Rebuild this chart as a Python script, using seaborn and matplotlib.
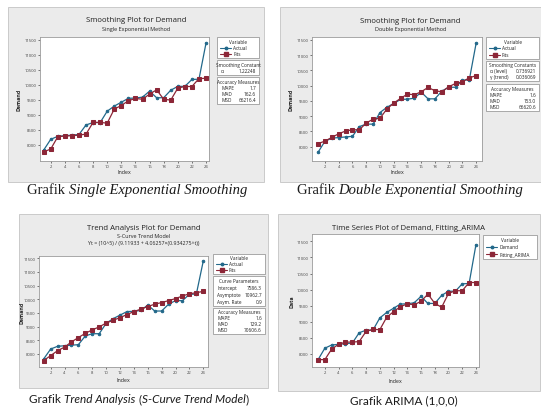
import matplotlib
matplotlib.use("Agg")
import numpy as np
import seaborn as sns
import matplotlib.pyplot as plt
from matplotlib.patches import Rectangle
from matplotlib.lines import Line2D

# ---- data -------------------------------------------------------------
index = list(range(1, 25))
demand = [7820, 8180, 8280, 8300, 8320, 8340, 8660, 8740, 8740, 9120, 9290, 9420,
          9550, 9560, 9590, 9790, 9570, 9570, 9820, 9950, 9950, 10180, 10190, 11400]
fits_single = [7760, 7855, 8265, 8290, 8300, 8320, 8355, 8745, 8745, 8720, 9190, 9310,
               9470, 9545, 9520, 9690, 9835, 9520, 9490, 9890, 9945, 9945, 10210, 10220]
fits_double = [8100, 8185, 8305, 8425, 8515, 8555, 8555, 8775, 8905, 8930, 9235, 9430,
               9585, 9725, 9705, 9800, 9945, 9835, 9800, 9965, 10075, 10130, 10260, 10330]
fits_trend = [7760, 7940, 8120, 8250, 8440, 8600, 8755, 8880, 8990, 9130, 9230, 9330,
              9440, 9550, 9640, 9735, 9820, 9880, 9950, 10025, 10120, 10200, 10240, 10290]
fits_arima = [7825, 7825, 8155, 8300, 8370, 8370, 8385, 8700, 8765, 8755, 9140, 9315,
              9470, 9555, 9530, 9635, 9860, 9575, 9450, 9880, 9965, 9965, 10220, 10220]

x_ticks = list(range(2, 25, 2))
y_ticks = [8000, 8500, 9000, 9500, 10000, 10500, 11000, 11500]

single_constants = [("α", "1.22248")]
double_constants = [("α (level)", "0.736921"), ("γ (trend)", "0.036069")]
trend_params = [("Intercept", "7586.3"), ("Asymptote", "10962.7"), ("Asym. Rate", "0.9")]
acc_single = [("MAPE", "1.7"), ("MAD", "162.6"), ("MSD", "66216.4")]
acc_double = [("MAPE", "1.6"), ("MAD", "153.0"), ("MSD", "66620.6")]
acc_trend = [("MAPE", "1.6"), ("MAD", "129.2"), ("MSD", "70606.6")]

# ---- style ------------------------------------------------------------
W, H = 541, 410
BLUE = "#22688a"
RED = "#8c2637"
PANEL = "#ebebeb"
EDGE = "#c4c4c4"
TXT = "#222222"

sns.set_theme(style="white")
plt.rcParams["font.family"] = ["Open Sans", "DejaVu Sans"]

fig = plt.figure(figsize=(W / 100, H / 100), dpi=100)
fig.patch.set_facecolor("white")


def fx(x):
    return x / W


def fy(y):
    return 1 - y / H


def frect(x0, y0, x1, y1):
    return [x0 / W, 1 - y1 / H, (x1 - x0) / W, (y1 - y0) / H]


def box(x0, y0, x1, y1, fc, ec, lw=0.6, z=-2):
    fig.add_artist(Rectangle((fx(x0), fy(y1)), (x1 - x0) / W, (y1 - y0) / H,
                             transform=fig.transFigure, facecolor=fc,
                             edgecolor=ec, lw=lw, zorder=z))


def legend_box(x0, y0, x1, y1, rows, fs=3.4):
    box(x0, y0, x1, y1, "white", "#8a8a8a", lw=0.5, z=-1)
    n = len(rows)
    step = (y1 - y0 - 2) / n
    for i, row in enumerate(rows):
        y = y0 + 1 + step * (i + 0.5)
        kind = row[0]
        if kind == "center":
            fig.text(fx((x0 + x1) / 2), fy(y), row[1], fontsize=fs, color=TXT,
                     ha="center", va="center")
        elif kind == "entry":
            _, label, color, marker, ms = row
            fig.add_artist(Line2D([fx(x0 + 3), fx(x0 + 14)], [fy(y), fy(y)],
                                  transform=fig.transFigure, color=color, lw=0.8))
            fig.add_artist(Line2D([fx(x0 + 8.5)], [fy(y)], transform=fig.transFigure,
                                  color=color, marker=marker, ms=ms, lw=0))
            fig.text(fx(x0 + 16), fy(y), label, fontsize=fs, color=TXT,
                     ha="left", va="center")
        elif kind == "kv":
            fig.text(fx(x0 + 4), fy(y), row[1], fontsize=fs, color=TXT,
                     ha="left", va="center")
            fig.text(fx(x1 - 3), fy(y), row[2], fontsize=fs, color=TXT,
                     ha="right", va="center")


def panel(bg, area, fits, names, ylabel, xlim, ylim, titles, ylabel_x, xlabel_y):
    box(*bg, fc=PANEL, ec=EDGE, lw=0.6)
    ax = fig.add_axes(frect(*area))
    ax.set_facecolor("white")
    sns.lineplot(x=index, y=demand, ax=ax, color=BLUE, marker="o", ms=1.8,
                 mec=BLUE, lw=0.9, label=names[0], legend=False)
    sns.lineplot(x=index, y=fits, ax=ax, color=RED, marker="s", ms=2.6,
                 mec=RED, lw=0.9, label=names[1], legend=False)
    ax.set_xlim(*xlim)
    ax.set_ylim(*ylim)
    ax.set_xticks(x_ticks)
    ax.set_yticks(y_ticks)
    ax.set_xticklabels([str(t) for t in x_ticks])
    ax.set_yticklabels([str(t) for t in y_ticks])
    ax.tick_params(axis="both", labelsize=3.0, length=1.5, width=0.5, pad=1.0,
                   colors="#444444", direction="out", bottom=True, left=True)
    for s in ax.spines.values():
        s.set_color("#9a9a9a")
        s.set_linewidth(0.6)
    ax.set_xlabel("")
    ax.set_ylabel("")
    cx = (bg[0] + bg[2]) / 2
    for text, ty, size, weight in titles:
        fig.text(fx(cx), fy(ty), text, fontsize=size, fontweight=weight,
                 color=TXT, ha="center", va="center")
    fig.text(fx(ylabel_x), fy((area[1] + area[3]) / 2), ylabel, fontsize=3.8,
             fontweight="bold", color=TXT, rotation=90, ha="center", va="center")
    fig.text(fx((area[0] + area[2]) / 2), fy(xlabel_y), "Index", fontsize=3.8,
             color=TXT, ha="center", va="center")
    return ax


def caption(cx, cy, parts, family, size):
    texts = [fig.text(0, fy(cy), s, fontfamily=family, fontstyle=st,
                      fontsize=size, color="#1a1a1a", ha="left", va="center")
             for s, st in parts]
    renderer = fig.canvas.get_renderer()
    widths = [t.get_window_extent(renderer).width for t in texts]
    x = cx - sum(widths) / 2
    for t, w in zip(texts, widths):
        t.set_x(x / W)
        x += w


# ---- single exponential smoothing ------------------------------------
panel((8, 8, 264, 183), (40, 38, 209, 162), fits_single, ("Actual", "Fits"),
      "Demand", (0.48, 24.42), (7455, 11600),
      [("Smoothing Plot for Demand", 21, 5.6, "normal"),
       ("Single Exponential Method", 29, 4.0, "normal")], 19, 173)
legend_box(217, 38, 259, 59, [("center", "Variable"),
                              ("entry", "Actual", BLUE, "o", 1.8),
                              ("entry", "Fits", RED, "s", 2.4)])
legend_box(217, 61, 259, 76, [("center", "Smoothing Constant")] +
           [("kv", k, v) for k, v in single_constants])
legend_box(217, 78, 259, 105, [("center", "Accuracy Measures")] +
           [("kv", k, v) for k, v in acc_single])

# ---- double exponential smoothing ------------------------------------
panel((280, 8, 541, 183), (312, 38, 482, 162), fits_double, ("Actual", "Fits"),
      "Demand", (0.11, 24.85), (7531, 11598),
      [("Smoothing Plot for Demand", 21.5, 5.6, "normal"),
       ("Double Exponential Method", 30, 4.0, "normal")], 291, 173)
legend_box(486, 38, 539, 60, [("center", "Variable"),
                              ("entry", "Actual", BLUE, "o", 1.8),
                              ("entry", "Fits", RED, "s", 2.4)])
legend_box(486, 62, 539, 82, [("center", "Smoothing Constants")] +
           [("kv", k, v) for k, v in double_constants])
legend_box(486, 85, 539, 112, [("center", "Accuracy Measures")] +
           [("kv", k, v) for k, v in acc_double])

# ---- trend analysis (S-curve) ----------------------------------------
panel((19, 215, 268, 389), (39, 257, 208, 368), fits_trend, ("Actual", "Fits"),
      "Demand", (0.32, 24.68), (7523, 11582),
      [("Trend Analysis Plot for Demand", 229, 5.6, "normal"),
       ("S-Curve Trend Model", 237, 4.0, "normal"),
       ("Yt = (10^5) / (9.11933 + 4.06257×(0.934275^t))", 244, 3.8, "normal")],
      22, 381)
legend_box(213, 255, 265, 275, [("center", "Variable"),
                                ("entry", "Actual", BLUE, "o", 1.8),
                                ("entry", "Fits", RED, "s", 2.4)])
legend_box(213, 277, 265, 307, [("center", "Curve Parameters")] +
           [("kv", k, v) for k, v in trend_params])
legend_box(213, 309, 265, 335, [("center", "Accuracy Measures")] +
           [("kv", k, v) for k, v in acc_trend])

# ---- ARIMA(1,0,0) -----------------------------------------------------
panel((278, 215, 540, 392), (312, 235, 479, 368), fits_arima,
      ("Demand", "Fitting_ARIMA"), "Data", (0.13, 24.44), (7596, 11727),
      [("Time Series Plot of Demand, Fitting_ARIMA", 229, 5.6, "normal")],
      292, 382)
legend_box(483, 236, 537, 260, [("center", "Variable"),
                                ("entry", "Demand", BLUE, "o", 1.8),
                                ("entry", "Fitting_ARIMA", RED, "s", 2.4)])

# ---- captions -----------------------------------------------------------
caption(137, 191, [("Grafik ", "normal"), ("Single Exponential Smoothing", "italic")],
        "Liberation Serif", 10.5)
caption(410, 191, [("Grafik ", "normal"), ("Double Exponential Smoothing", "italic")],
        "Liberation Serif", 10.5)
caption(139, 400, [("Grafik ", "normal"), ("Trend Analysis", "italic"), (" (", "normal"),
                   ("S-Curve Trend Model", "italic"), (")", "normal")], "Lato", 8.5)
caption(404, 401, [("Grafik ARIMA (1,0,0)", "normal")], "Lato", 8.5)

fig.savefig("out.png", dpi=100, facecolor="white")
